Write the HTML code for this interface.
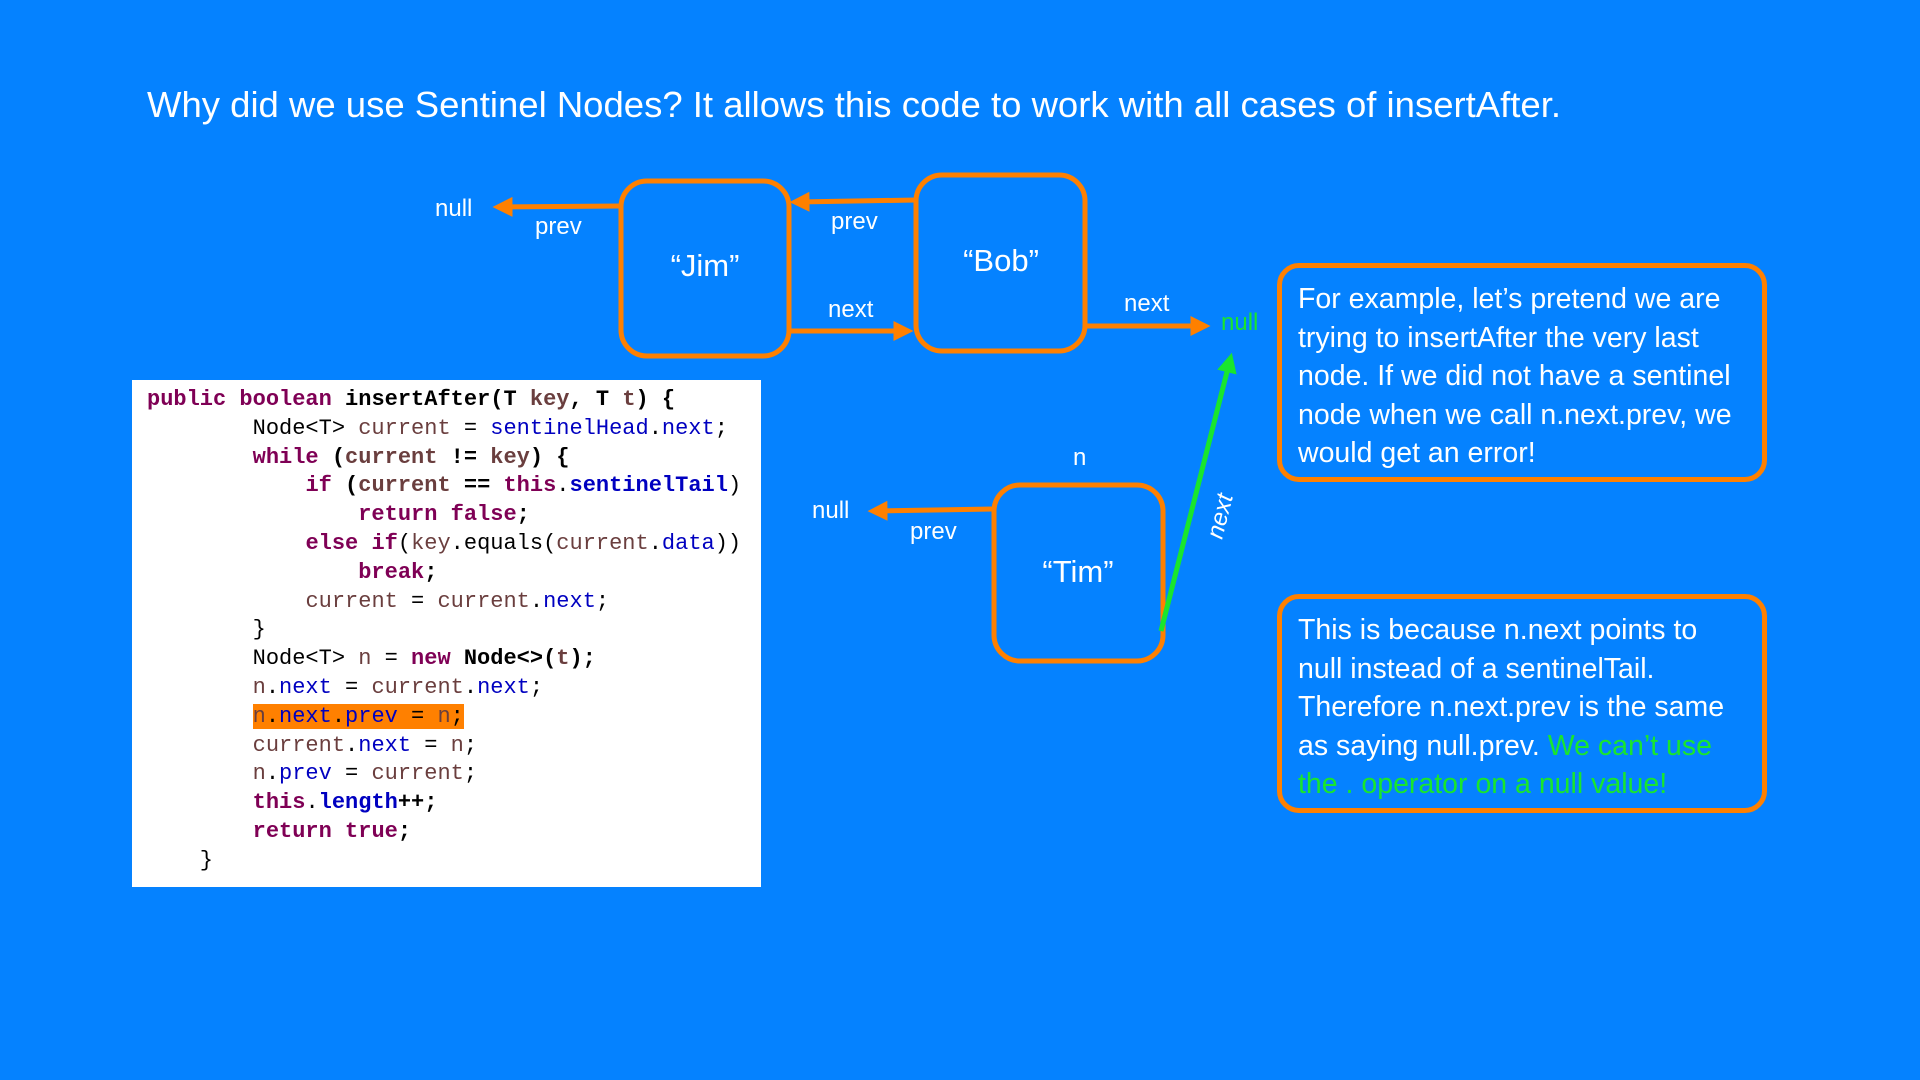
<!DOCTYPE html>
<html><head><meta charset="utf-8"><style>
html,body{margin:0;padding:0;}
body{width:1920px;height:1080px;background:#0582FF;position:relative;overflow:hidden;font-family:"Liberation Sans",sans-serif;color:#fff;}
.abs{position:absolute;white-space:nowrap;}
#title{left:147px;top:84px;font-size:36.5px;}
#code{position:absolute;left:132px;top:380px;width:629px;height:507px;background:#fff;}
#code pre{margin:0;position:absolute;left:15px;top:6px;font-family:"Liberation Mono",monospace;font-size:22px;line-height:28.8px;color:#000;font-weight:normal;}
.k{color:#7F0055;font-weight:bold}
.f{color:#0000C0}
.v{color:#6A3E3E}
.b{font-weight:bold}
.hl{background:#FF8000}
.tb{position:absolute;border:5px solid #FF8000;border-radius:22px;box-sizing:border-box;}
.tb div{position:absolute;left:16px;top:12px;font-size:28.5px;line-height:38.5px;white-space:nowrap;}
.g{color:#19E62D}
</style></head><body>
<div class="abs" id="title">Why did we use Sentinel Nodes? It allows this code to work with all cases of insertAfter.</div>

<div id="code"><pre><span class="k">public boolean</span> <span class="b">insertAfter(T</span> <span class="v b">key</span><span class="b">, T</span> <span class="v b">t</span><span class="b">) {</span>
        Node&lt;T&gt; <span class="v">current</span> = <span class="f">sentinelHead</span>.<span class="f">next</span>;
        <span class="k">while</span> <span class="b">(</span><span class="v b">current</span> <span class="b">!=</span> <span class="v b">key</span><span class="b">) {</span>
            <span class="k">if</span> <span class="b">(</span><span class="v b">current</span> <span class="b">==</span> <span class="k">this</span>.<span class="f b">sentinelTail</span>)
                <span class="k">return false</span><span class="b">;</span>
            <span class="k">else if</span>(<span class="v">key</span>.equals(<span class="v">current</span>.<span class="f">data</span>))
                <span class="k">break</span><span class="b">;</span>
            <span class="v">current</span> = <span class="v">current</span>.<span class="f">next</span>;
        }
        Node&lt;T&gt; <span class="v">n</span> = <span class="k">new</span> <span class="b">Node&lt;&gt;(</span><span class="v b">t</span><span class="b">);</span>
        <span class="v">n</span>.<span class="f">next</span> = <span class="v">current</span>.<span class="f">next</span>;
        <span class="hl"><span class="v">n</span>.<span class="f">next</span>.<span class="f">prev</span> = <span class="v">n</span>;</span>
        <span class="v">current</span>.<span class="f">next</span> = <span class="v">n</span>;
        <span class="v">n</span>.<span class="f">prev</span> = <span class="v">current</span>;
        <span class="k">this</span>.<span class="f b">length</span><span class="b">++;</span>
        <span class="k">return true</span><span class="b">;</span>
    }</pre></div>

<svg class="abs" style="left:0;top:0" width="1920" height="1080">
<defs>
<marker id="ao" markerWidth="4" markerHeight="4" refX="2.5" refY="2" orient="auto" markerUnits="strokeWidth"><path d="M0,0 L4,2 L0,4 z" fill="#FF8000"/></marker>
<marker id="ag" markerWidth="4" markerHeight="4" refX="2.5" refY="2" orient="auto" markerUnits="strokeWidth"><path d="M0,0 L4,2 L0,4 z" fill="#19E62D"/></marker>
</defs>
<g fill="none" stroke="#FF8000" stroke-width="5">
<rect x="621" y="181" width="168" height="175" rx="26"/>
<rect x="916" y="175" width="169" height="176" rx="26"/>
<rect x="994" y="485" width="169" height="176" rx="26"/>
<line x1="621" y1="206" x2="500" y2="207" marker-end="url(#ao)"/>
<line x1="916" y1="200" x2="797" y2="202" marker-end="url(#ao)"/>
<line x1="789" y1="331" x2="906" y2="331" marker-end="url(#ao)"/>
<line x1="1086" y1="326" x2="1203" y2="326" marker-end="url(#ao)"/>
<line x1="994" y1="509" x2="875" y2="511" marker-end="url(#ao)"/>
</g>
<line x1="1161" y1="631" x2="1230" y2="360" stroke="#19E62D" stroke-width="5" marker-end="url(#ag)"/>
<g fill="#fff" font-family="Liberation Sans, sans-serif" font-size="24">
<text x="435" y="216">null</text>
<text x="535" y="234">prev</text>
<text x="831" y="229">prev</text>
<text x="828" y="317">next</text>
<text x="1124" y="311">next</text>
<text x="1221" y="330" fill="#19E62D">null</text>
<text x="812" y="518">null</text>
<text x="910" y="539">prev</text>
<text x="1073" y="465">n</text>
<text font-style="italic" transform="translate(1222,540) rotate(-76)">next</text>
<g font-size="31" text-anchor="middle">
<text x="705" y="276">“Jim”</text>
<text x="1001" y="271">“Bob”</text>
<text x="1078" y="582">“Tim”</text>
</g>
</g>
</svg>

<div class="tb" style="left:1277px;top:263px;width:490px;height:219px;"><div>For example, let’s pretend we are<br>trying to insertAfter the very last<br>node. If we did not have a sentinel<br>node when we call n.next.prev, we<br>would get an error!</div></div>
<div class="tb" style="left:1277px;top:594px;width:490px;height:219px;"><div>This is because n.next points to<br>null instead of a sentinelTail.<br>Therefore n.next.prev is the same<br>as saying null.prev. <span class="g">We can’t use</span><br><span class="g">the . operator on a null value!</span></div></div>
</body></html>
